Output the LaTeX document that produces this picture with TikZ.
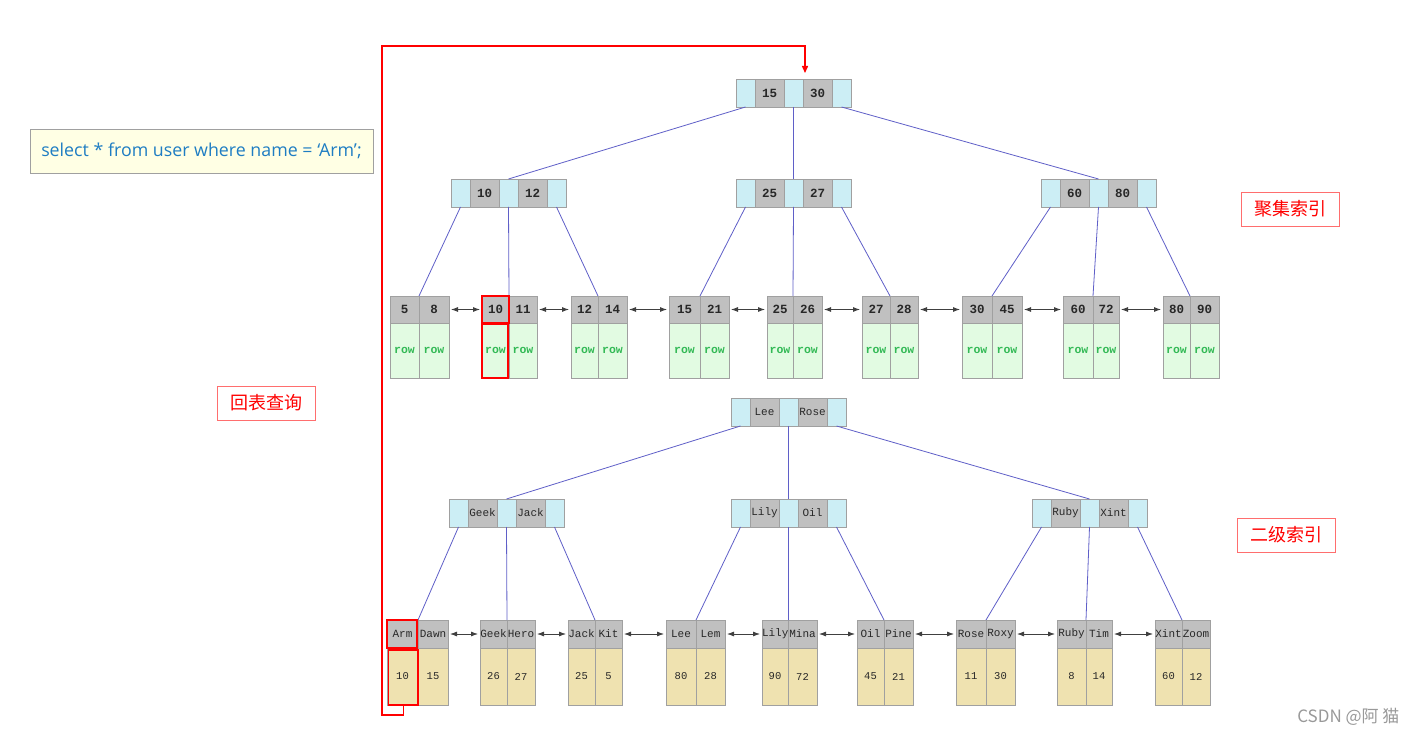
\documentclass[tikz,border=0pt]{standalone}
\usepackage{fontspec}
\usetikzlibrary{arrows.meta}
\newfontfamily\monof{Liberation Mono}
\newfontfamily\sqlf{Open Sans}
\newfontfamily\cjkf{Noto Sans CJK SC}
\definecolor{cyanF}{RGB}{204,238,245}
\definecolor{grayF}{RGB}{192,192,192}
\definecolor{bordC}{RGB}{160,160,160}
\definecolor{greenF}{RGB}{226,251,226}
\definecolor{rowT}{RGB}{50,185,85}
\definecolor{beigeF}{RGB}{239,226,176}
\definecolor{edgeC}{RGB}{95,95,200}
\definecolor{arrC}{RGB}{64,64,64}
\definecolor{txtC}{RGB}{40,40,40}
\definecolor{sqlT}{RGB}{30,125,195}
\definecolor{sqlF}{RGB}{255,255,228}
\definecolor{labR}{RGB}{255,110,110}
\tikzset{
  cell/.style={draw=bordC, line width=0.8pt, anchor=north west, inner sep=0pt, outer sep=0pt, text=txtC},
  ccell/.style={cell, fill=cyanF, minimum width=19pt, minimum height=28pt},
  kcell/.style={cell, fill=grayF, minimum width=29pt, minimum height=28pt},
  numf/.style={font=\monof\bfseries\fontsize{12.5}{12.5}\selectfont},
  namef/.style={font=\monof\fontsize{11}{11}\selectfont},
  lkey/.style={cell, fill=grayF, minimum height=27pt},
  lrow/.style={cell, fill=greenF, minimum height=55pt, text=rowT, font=\monof\bfseries\fontsize{11.5}{11.5}\selectfont},
  lval/.style={cell, fill=beigeF, minimum height=57pt, font=\monof\fontsize{10.5}{10.5}\selectfont},
  edge/.style={draw=edgeC, line width=0.8pt},
  larr/.style={draw=arrC, line width=0.8pt, {Latex[length=7pt,width=5pt]}-{Latex[length=7pt,width=5pt]}, shorten <=2pt, shorten >=2pt},
  redbox/.style={draw=red, line width=1.6pt},
  redpath/.style={draw=red, line width=1.4pt, -{Triangle[length=7pt,width=6pt]}},
  cjklabel/.style={draw=labR, line width=0.9pt, text=red, inner sep=0pt, minimum width=98pt, minimum height=34pt, font=\cjkf\fontsize{18}{18}\selectfont},
}
\newcommand{\inode}[6]{%
  \node[ccell] (#1-a) at (#2,#3) {};
  \node[kcell,#6] (#1-k) at (#1-a.north east) {#4};
  \node[ccell] (#1-b) at (#1-k.north east) {};
  \node[kcell,#6] (#1-m) at (#1-b.north east) {#5};
  \node[ccell] (#1-c) at (#1-m.north east) {};
}
\newcommand{\leafC}[6]{%
  \node[lkey,numf,minimum width={#3-#2}] (#1-l) at (#2,296) {#5};
  \node[lkey,numf,minimum width={#4-#3}] (#1-r) at (#3,296) {#6};
  \node[lrow,minimum width={#3-#2}] (#1-lv) at (#2,323) {row};
  \node[lrow,minimum width={#4-#3}] (#1-rv) at (#3,323) {row};
}
\newcommand{\leafS}[8]{%
  \node[lkey,namef,minimum height=28pt,minimum width={#3-#2}] (#1-l) at (#2,620) {#5};
  \node[lkey,namef,minimum height=28pt,minimum width={#4-#3}] (#1-r) at (#3,620) {#6};
  \node[lval,minimum width={#3-#2}] (#1-lv) at (#2,648) {#7};
  \node[lval,minimum width={#4-#3}] (#1-rv) at (#3,648) {#8};
}
\begin{document}
\begin{tikzpicture}[x=1pt,y=-1pt]
\fill[white] (0,0) rectangle (1417,735);
\useasboundingbox (0,0) rectangle (1417,735);

% ---------- clustered index ----------
\inode{r}{736}{79}{15}{30}{numf}
\inode{n1}{451}{179}{10}{12}{numf}
\inode{n2}{736}{179}{25}{27}{numf}
\inode{n3}{1041}{179}{60}{80}{numf}

\leafC{c1}{390}{419}{449}{5}{8}
\leafC{c2}{482}{509}{537}{10}{11}
\leafC{c3}{571}{598}{627}{12}{14}
\leafC{c4}{669}{700}{729}{15}{21}
\leafC{c5}{767}{793}{822}{25}{26}
\leafC{c6}{862}{890}{918}{27}{28}
\leafC{c7}{962}{992}{1022}{30}{45}
\leafC{c8}{1063}{1093}{1119}{60}{72}
\leafC{c9}{1163}{1190}{1219}{80}{90}

\draw[edge] (r-a.south) -- (n1-b.north);
\draw[edge] (r-b.south) -- (n2-b.north);
\draw[edge] (r-c.south) -- (n3-b.north);
\draw[edge] (n1-a.south) -- (c1-l.north east);
\draw[edge] (n1-b.south) -- (c2-l.north east);
\draw[edge] (n1-c.south) -- (c3-l.north east);
\draw[edge] (n2-a.south) -- (c4-l.north east);
\draw[edge] (n2-b.south) -- (c5-l.north east);
\draw[edge] (n2-c.south) -- (c6-l.north east);
\draw[edge] (n3-a.south) -- (c7-l.north east);
\draw[edge] (n3-b.south) -- (c8-l.north east);
\draw[edge] (n3-c.south) -- (c9-l.north east);

\draw[larr] (c1-r.east) -- (c2-l.west);
\draw[larr] (c2-r.east) -- (c3-l.west);
\draw[larr] (c3-r.east) -- (c4-l.west);
\draw[larr] (c4-r.east) -- (c5-l.west);
\draw[larr] (c5-r.east) -- (c6-l.west);
\draw[larr] (c6-r.east) -- (c7-l.west);
\draw[larr] (c7-r.east) -- (c8-l.west);
\draw[larr] (c8-r.east) -- (c9-l.west);

% ---------- secondary index ----------
\inode{sr}{731}{398}{Lee}{Rose}{namef}
\inode{m1}{449}{499}{Geek}{Jack}{namef}
\inode{m2}{731}{499}{Lily}{Oil}{namef}
\inode{m3}{1032}{499}{Ruby}{Xint}{namef}

\leafS{s1}{387}{418}{448}{Arm}{Dawn}{10}{15}
\leafS{s2}{480}{507}{535}{Geek}{Hero}{26}{27}
\leafS{s3}{568}{595}{622}{Jack}{Kit}{25}{5}
\leafS{s4}{666}{696}{725}{Lee}{Lem}{80}{28}
\leafS{s5}{762}{788}{817}{Lily}{Mina}{90}{72}
\leafS{s6}{857}{884}{913}{Oil}{Pine}{45}{21}
\leafS{s7}{956}{986}{1015}{Rose}{Roxy}{11}{30}
\leafS{s8}{1057}{1086}{1112}{Ruby}{Tim}{8}{14}
\leafS{s9}{1155}{1182}{1210}{Xint}{Zoom}{60}{12}

\draw[edge] (sr-a.south) -- (m1-b.north);
\draw[edge] (sr-b.south) -- (m2-b.north);
\draw[edge] (sr-c.south) -- (m3-b.north);
\draw[edge] (m1-a.south) -- (s1-l.north east);
\draw[edge] (m1-b.south) -- (s2-l.north east);
\draw[edge] (m1-c.south) -- (s3-l.north east);
\draw[edge] (m2-a.south) -- (s4-l.north east);
\draw[edge] (m2-b.south) -- (s5-l.north east);
\draw[edge] (m2-c.south) -- (s6-l.north east);
\draw[edge] (m3-a.south) -- (s7-l.north east);
\draw[edge] (m3-b.south) -- (s8-l.north east);
\draw[edge] (m3-c.south) -- (s9-l.north east);

\draw[larr] (s1-r.east) -- (s2-l.west);
\draw[larr] (s2-r.east) -- (s3-l.west);
\draw[larr] (s3-r.east) -- (s4-l.west);
\draw[larr] (s4-r.east) -- (s5-l.west);
\draw[larr] (s5-r.east) -- (s6-l.west);
\draw[larr] (s6-r.east) -- (s7-l.west);
\draw[larr] (s7-r.east) -- (s8-l.west);
\draw[larr] (s8-r.east) -- (s9-l.west);

% ---------- highlights and back-to-table path ----------
\draw[redbox] (c2-l.north west) rectangle (c2-l.south east);
\draw[redbox] ([yshift=-1.5pt]c2-lv.north west) rectangle ([xshift=-1pt]c2-lv.south east);
\draw[redbox] (s1-l.north west) rectangle ([xshift=-1pt]s1-l.south east);
\draw[redbox] ([xshift=1.5pt,yshift=-2pt]s1-lv.north west) rectangle (s1-lv.south east);
\coordinate (pb) at (382,715);
\coordinate (pt) at (382,46);
\coordinate (tip) at (805,73);
\draw[redpath] ([xshift=1pt]s1-lv.south) |- (pb) -- (pt) -| (tip);

% ---------- labels ----------
\node[draw=bordC, line width=0.8pt, fill=sqlF, text=sqlT, inner sep=0pt, minimum width=343pt, minimum height=44pt, font=\sqlf\fontsize{17.8}{17.8}\selectfont] (sql) at (201.5,151) {select * from user where name = ‘Arm’;};
\node[cjklabel] (lab1) at (1290,209) {聚集索引};
\node[cjklabel] (lab2) at (1286.5,535) {二级索引};
\node[cjklabel] (lab3) at (266.5,403) {回表查询};
\node[text=black!40, font=\cjkf\fontsize{17}{17}\selectfont, anchor=east] (wm) at (1403,717) {CSDN @阿 猫};
\end{tikzpicture}
\end{document}
